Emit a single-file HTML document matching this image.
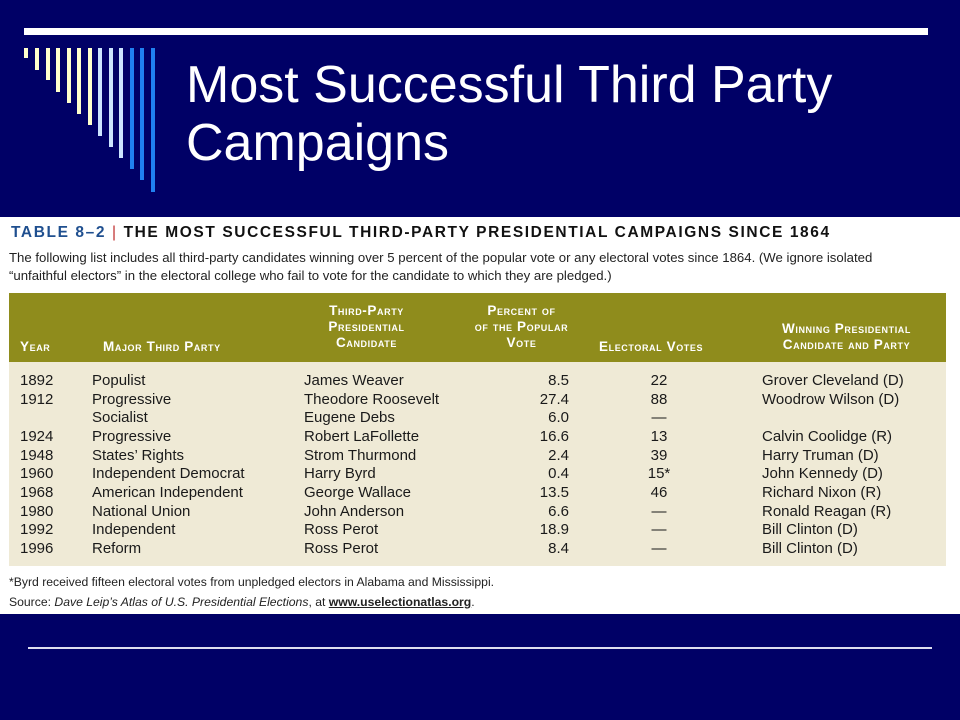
<!DOCTYPE html>
<html><head><meta charset="utf-8"><style>
body{margin:0;width:960px;height:720px;background:#000066;position:relative;overflow:hidden;font-family:"Liberation Sans",sans-serif}
.a{position:absolute}
.bar{position:absolute;top:48px;width:4px}
.title{left:186px;top:56px;color:#fff;font-size:52px;line-height:58px}
.sheet{left:0;top:217px;width:960px;height:397px;background:#fff}
.cap{left:11px;top:224px;font-size:15.5px;font-weight:bold;letter-spacing:1.6px;color:#111}
.cap .t{color:#1f4f8f}
.intro{left:9px;top:249px;font-size:13.2px;line-height:18px;color:#222;white-space:nowrap}
.hdr{left:9px;top:293px;width:937px;height:69px;background:#8f8c1c}
.h{position:absolute;color:#fff;font-weight:bold;font-size:13.5px;line-height:16px;font-variant:small-caps;letter-spacing:.6px}
.body{left:9px;top:362px;width:937px;height:204px;background:#efead6}
.row{position:absolute;left:0;width:937px;height:18.6px;font-size:15px;color:#1a1a1a;line-height:18.6px}
.row span{position:absolute}
.foot{left:9px;top:572px;font-size:12.2px;line-height:20px;color:#222}
</style></head><body>
<div class="a" style="left:24px;top:28px;width:904px;height:7px;background:#fff"></div>
<div>
<div class="bar" style="left:24px;height:10px;background:#ffffcc"></div>
<div class="bar" style="left:35px;height:22px;background:#ffffcc"></div>
<div class="bar" style="left:46px;height:32px;background:#ffffcc"></div>
<div class="bar" style="left:56px;height:44px;background:#ffffcc"></div>
<div class="bar" style="left:67px;height:55px;background:#ffffcc"></div>
<div class="bar" style="left:77px;height:66px;background:#ffffcc"></div>
<div class="bar" style="left:88px;height:77px;background:#ffffcc"></div>
<div class="bar" style="left:98px;height:88px;background:#cce4ff"></div>
<div class="bar" style="left:109px;height:99px;background:#cce4ff"></div>
<div class="bar" style="left:119px;height:110px;background:#cce4ff"></div>
<div class="bar" style="left:130px;height:121px;background:#2080f0"></div>
<div class="bar" style="left:140px;height:132px;background:#2080f0"></div>
<div class="bar" style="left:151px;height:144px;background:#2080f0"></div>
</div>
<div class="a title">Most Successful Third Party<br>Campaigns</div>
<div class="a sheet"></div>
<div class="a cap"><span class="t">TABLE 8–2</span> <span style="color:#c03030;font-weight:normal">|</span> THE MOST SUCCESSFUL THIRD-PARTY PRESIDENTIAL CAMPAIGNS SINCE 1864</div>
<div class="a intro">The following list includes all third-party candidates winning over 5 percent of the popular vote or any electoral votes since 1864. (We ignore isolated<br>“unfaithful electors” in the electoral college who fail to vote for the candidate to which they are pledged.)</div>
<div class="a hdr">
<div class="h" style="left:11px;top:46px">Year</div>
<div class="h" style="left:94px;top:46px">Major Third Party</div>
<div class="h" style="left:285px;top:10px;width:145px;text-align:center">Third-Party<br>Presidential<br>Candidate</div>
<div class="h" style="left:445px;top:10px;width:135px;text-align:center">Percent of<br>of the Popular<br>Vote</div>
<div class="h" style="left:590px;top:46px">Electoral Votes</div>
<div class="h" style="left:735px;top:28px;width:205px;text-align:center">Winning Presidential<br>Candidate and Party</div>
</div>
<div class="a body" id="tb"></div>
<div class="a foot">*Byrd received fifteen electoral votes from unpledged electors in Alabama and Mississippi.<br>Source: <i>Dave Leip’s Atlas of U.S. Presidential Elections</i>, at <b><u>www.uselectionatlas.org</u></b>.</div>
<div class="a" style="left:28px;top:647px;width:904px;height:2px;background:#dde"></div>
<script>
const years=["1892","1912","","1924","1948","1960","1968","1980","1992","1996"];
const parties=["Populist","Progressive","Socialist","Progressive","States’ Rights","Independent Democrat","American Independent","National Union","Independent","Reform"];
const candidates=["James Weaver","Theodore Roosevelt","Eugene Debs","Robert LaFollette","Strom Thurmond","Harry Byrd","George Wallace","John Anderson","Ross Perot","Ross Perot"];
const percents=["8.5","27.4","6.0","16.6","2.4","0.4","13.5","6.6","18.9","8.4"];
const electoral=["22","88","—","13","39","15*","46","—","—","—"];
const winners=["Grover Cleveland (D)","Woodrow Wilson (D)","","Calvin Coolidge (R)","Harry Truman (D)","John Kennedy (D)","Richard Nixon (R)","Ronald Reagan (R)","Bill Clinton (D)","Bill Clinton (D)"];
const tb=document.getElementById('tb');
years.forEach((y,i)=>{
 const r=document.createElement('div');
 r.className='row';
 r.style.top=(10+i*18.65)+'px';
 
 
 r.innerHTML='<span style="left:11px">'+y+'</span><span style="left:83px">'+parties[i]+'</span><span style="left:295px">'+candidates[i]+'</span><span style="left:480px;width:80px;text-align:right">'+percents[i]+'</span><span style="left:610px;width:80px;text-align:center">'+electoral[i]+'</span><span style="left:753px">'+winners[i]+'</span>';
 tb.appendChild(r);
});
</script>
</body></html>
